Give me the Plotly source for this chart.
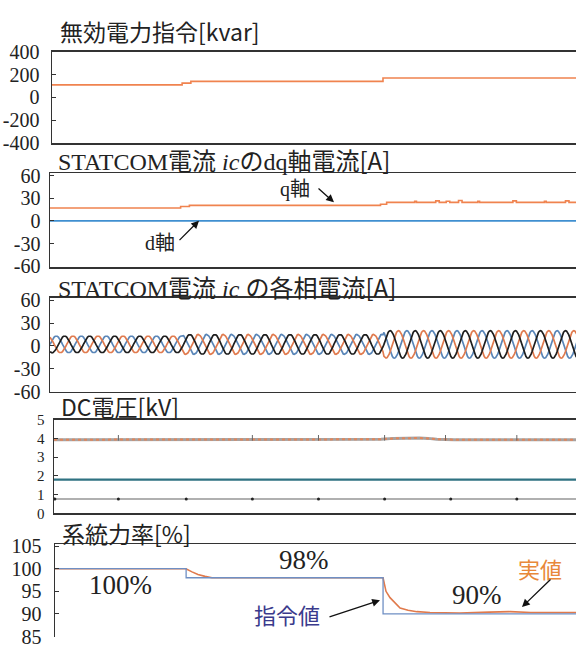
import numpy as np
import plotly.graph_objects as go

W, H = 576, 648

# ---------------- data ----------------
# Panel 1: reactive power command [kvar]
q_cmd_t = [0.0, 0.745, 0.795, 1.895, 3.0]
q_cmd_v = [110, 125, 140, 170, 170]

# Panel 2: dq-axis currents [A]
iq_t = [0.0, 0.745, 0.795, 1.885, 1.92, 2.08, 2.09, 2.20, 2.22, 2.26, 2.28,
        2.33, 2.35, 2.44, 2.45, 2.64, 2.66, 2.82, 2.83, 2.94, 2.96, 3.0]
iq_v = [17, 19, 20.5, 22, 24.5, 26, 24.5, 26.5, 24.5, 26, 24.5,
        27, 24.5, 26, 24.5, 26.5, 24.5, 26, 24.5, 26.5, 24.5, 24.5]
id_t = [0.0, 3.0]
id_v = [0, 0]

# Panel 3: phase currents [A]
phase_freq_hz = 7.0                # about 21 cycles across the window
phase_amp_t = [0.0, 0.76, 1.90]    # amplitude change times
phase_amp_v = [11, 13, 18]         # amplitude in each interval
phase_offset = 2.0
unit_cycle = [0.0, 0.26, 0.5, 0.71, 0.87, 0.97, 1.0, 0.97, 0.87, 0.71, 0.5, 0.26,
              0.0, -0.26, -0.5, -0.71, -0.87, -0.97, -1.0, -0.97, -0.87, -0.71, -0.5, -0.26]
phase_names = ["ia", "ib", "ic"]
phase_shift_samples = [0, 8, 16]

# Panel 4: DC voltages [kV]
dc_high_t = [0.0, 0.50, 0.55, 1.10, 1.88, 1.95, 2.00, 2.05, 2.10, 2.15, 2.20, 2.30, 2.60, 3.0]
dc_high_v = [3.93, 3.93, 3.91, 3.93, 3.95, 4.00, 4.02, 4.03, 4.02, 4.00, 3.96, 3.93, 3.94, 3.93]
dc_mid_t = [0.0, 3.0]
dc_mid_v = [1.80, 1.80]
dc_low_t = [0.0, 3.0]
dc_low_v = [0.77, 0.77]
dc_low_dot_t = [0.005, 0.37, 0.76, 1.14, 1.52, 1.90, 2.28, 2.66]
dc_high_tick_t = [0.37, 1.14, 1.52, 1.90, 2.25, 2.66]

# Panel 5: power factor [%]
pf_cmd_t = [0.0, 0.755, 1.889, 3.0]
pf_cmd_v = [100, 98, 90, 90]
pf_act_t = [0.0, 0.754, 0.789, 0.823, 0.864, 0.904, 1.889, 1.894, 1.906, 1.929,
            1.958, 1.987, 2.033, 2.084, 2.159, 2.33, 2.50, 2.62, 2.74, 2.91, 3.0]
pf_act_v = [100, 100, 99.3, 98.7, 98.3, 98.0, 98.0, 97.0, 95.0, 93.6,
            92.4, 91.3, 90.8, 90.5, 90.3, 90.2, 90.4, 90.5, 90.3, 90.4, 90.3]

# ---------------- colours ----------------
ORANGE = "#f0834f"
BLUE = "#3f8fd0"
PH_COLORS = ["#5a86b8", "#e07b4f", "#1e1e1e"]
CMD_BLUE = "#6f8fc4"
AXC = "#333333"

SERIF_ONLY = "Liberation Serif, serif"
SERIF = "Liberation Serif, Noto Sans CJK JP, serif"
SANS = "Noto Sans CJK JP, sans-serif"
CJK = '<span style="font-family:Noto Sans CJK JP">'

# ---------------- layout helpers ----------------
def fx(x):
    return x / W

def fy(y):
    return 1 - y / H

# (left px, top px, bottom px, y range, tick values, tick font size, label gap)
panels = [
    (52, 42, 137, [-400, 400], [-400, -200, 0, 200, 400], 20, 7),
    (50, 168, 265, [-61, 63], [-60, -30, 0, 30, 60], 20, 4),
    (50, 297, 394, [-60, 63], [-60, -30, 0, 30, 60], 20, 4),
    (54, 423, 520, [0, 5], [0, 1, 2, 3, 4, 5], 15, 5),
    (55, 552, 648, [84.9, 105.4], [85, 90, 95, 100, 105], 20, 8),
]

fig = go.Figure()

def add(i, x, y, **kw):
    fig.add_trace(go.Scatter(x=x, y=y, xaxis=f"x{i if i > 1 else ''}",
                             yaxis=f"y{i if i > 1 else ''}", showlegend=False,
                             hoverinfo="skip", **kw))

# Panel 1
add(1, q_cmd_t, q_cmd_v, mode="lines", line=dict(color=ORANGE, width=1.6, shape="hv"))

# Panel 2
add(2, id_t, id_v, mode="lines", line=dict(color=BLUE, width=1.6))
add(2, iq_t, iq_v, mode="lines", line=dict(color=ORANGE, width=1.6, shape="hv"))

# Panel 3
n_cyc = int(round(phase_freq_hz * 3.0)) + 1
n_per = len(unit_cycle)
base = np.tile(np.array(unit_cycle), n_cyc + 1)
t_ph = np.arange(n_cyc * n_per) / (phase_freq_hz * n_per)
amp_idx = np.searchsorted(np.array(phase_amp_t), t_ph, side="right") - 1
amp = np.array(phase_amp_v)[amp_idx]
for k, (name, sh) in enumerate(zip(phase_names, phase_shift_samples)):
    wave = base[sh:sh + len(t_ph)]
    add(3, t_ph, phase_offset + amp * wave, mode="lines",
        line=dict(color=PH_COLORS[k], width=1.7))

# Panel 4
add(4, dc_high_t, dc_high_v, mode="lines", line=dict(color="#a8a2a0", width=3))
add(4, dc_high_t, dc_high_v, mode="lines", line=dict(color="#e0865c", width=2, dash="dot"))
add(4, dc_high_tick_t, [4.03] * len(dc_high_tick_t), mode="markers",
    marker=dict(symbol="line-ns", size=4, line=dict(color="#666", width=1)))
add(4, dc_mid_t, dc_mid_v, mode="lines", line=dict(color="#2f7282", width=2.2))
add(4, dc_low_t, dc_low_v, mode="lines", line=dict(color="#b0b0b0", width=2))
add(4, dc_low_dot_t, [dc_low_v[0]] * len(dc_low_dot_t), mode="markers",
    marker=dict(color="#222", size=3))

# Panel 5
add(5, pf_act_t, pf_act_v, mode="lines", line=dict(color="#e07a4c", width=1.6))
add(5, pf_cmd_t, pf_cmd_v, mode="lines", line=dict(color=CMD_BLUE, width=1.3, shape="hv"))

layout = dict(width=W, height=H, margin=dict(l=0, r=0, t=0, b=0),
              paper_bgcolor="white", plot_bgcolor="white", showlegend=False)

for i, (left, top, bot, yr, tv, fs, gap) in enumerate(panels, start=1):
    sfx = str(i) if i > 1 else ""
    last = (i == 5)
    layout[f"xaxis{sfx}"] = dict(domain=[fx(left), 1.0], range=[0, 3.0],
                                 anchor=f"y{sfx}", showline=True, linecolor=AXC,
                                 linewidth=1.5, mirror=(not last),
                                 side="top" if last else "bottom",
                                 showgrid=False, zeroline=False,
                                 showticklabels=False, ticks="", fixedrange=True)
    layout[f"yaxis{sfx}"] = dict(domain=[fy(bot), fy(top)], range=yr,
                                 anchor=f"x{sfx}", showline=True, linecolor=AXC,
                                 linewidth=1.5, showgrid=False, zeroline=False,
                                 tickvals=tv, ticktext=[str(v) for v in tv],
                                 ticks="inside", ticklen=4, tickcolor=AXC,
                                 ticklabelstandoff=gap, fixedrange=True,
                                 tickfont=dict(family=SERIF_ONLY, size=fs,
                                               color="#222"))

ann = []
def text(x, y, s, size, family=SANS, color="#222", xanchor="left"):
    ann.append(dict(x=fx(x), y=fy(y), xref="paper", yref="paper", text=s,
                    showarrow=False, xanchor=xanchor, yanchor="middle",
                    font=dict(family=family, size=size, color=color)))

def arrow(x0, y0, x1, y1):
    ann.append(dict(x=fx(x1), y=fy(y1), xref="paper", yref="paper", text="",
                    showarrow=True, ax=x0 - x1, ay=y0 - y1, arrowhead=2,
                    arrowsize=1.2, arrowwidth=1.3, arrowcolor="#111"))

# Titles
text(58, 21, "無効電力指令[kvar]", 23)
text(56, 154, "STATCOM電流 <i>ic</i>のdq軸電流" + CJK + "[A]</span>", 24, family=SERIF)
text(56, 285, "STATCOM電流 <i>ic</i> の各相電流" + CJK + "[A]</span>", 24, family=SERIF)
text(59, 409, "DC電圧[kV]", 23)
text(60, 540, "系統力率[%]", 23)

# Panel 2 labels
text(278, 185, "q軸", 20, family=SERIF)
arrow(317, 183, 334, 198)
text(143, 240, "d軸", 20, family=SERIF)
arrow(178, 238, 199, 217)

# Panel 5 labels
text(120, 594, "100%", 27, family=SERIF_ONLY, xanchor="center")
text(304, 568, "98%", 27, family=SERIF_ONLY, xanchor="center")
text(477, 605, "90%", 27, family=SERIF_ONLY, xanchor="center")
text(540, 577, "実値", 22, color="#e8883a", xanchor="center")
arrow(552, 588, 522, 617)
text(287, 624, "指令値", 22, color="#3a3a8c", xanchor="center")
arrow(328, 627, 380, 610)

layout["annotations"] = ann
fig.update_layout(**layout)
fig.write_html("out.html", config={"displayModeBar": False, "staticPlot": True},
               post_script="document.body.style.margin='0';document.body.style.overflow='hidden';")
